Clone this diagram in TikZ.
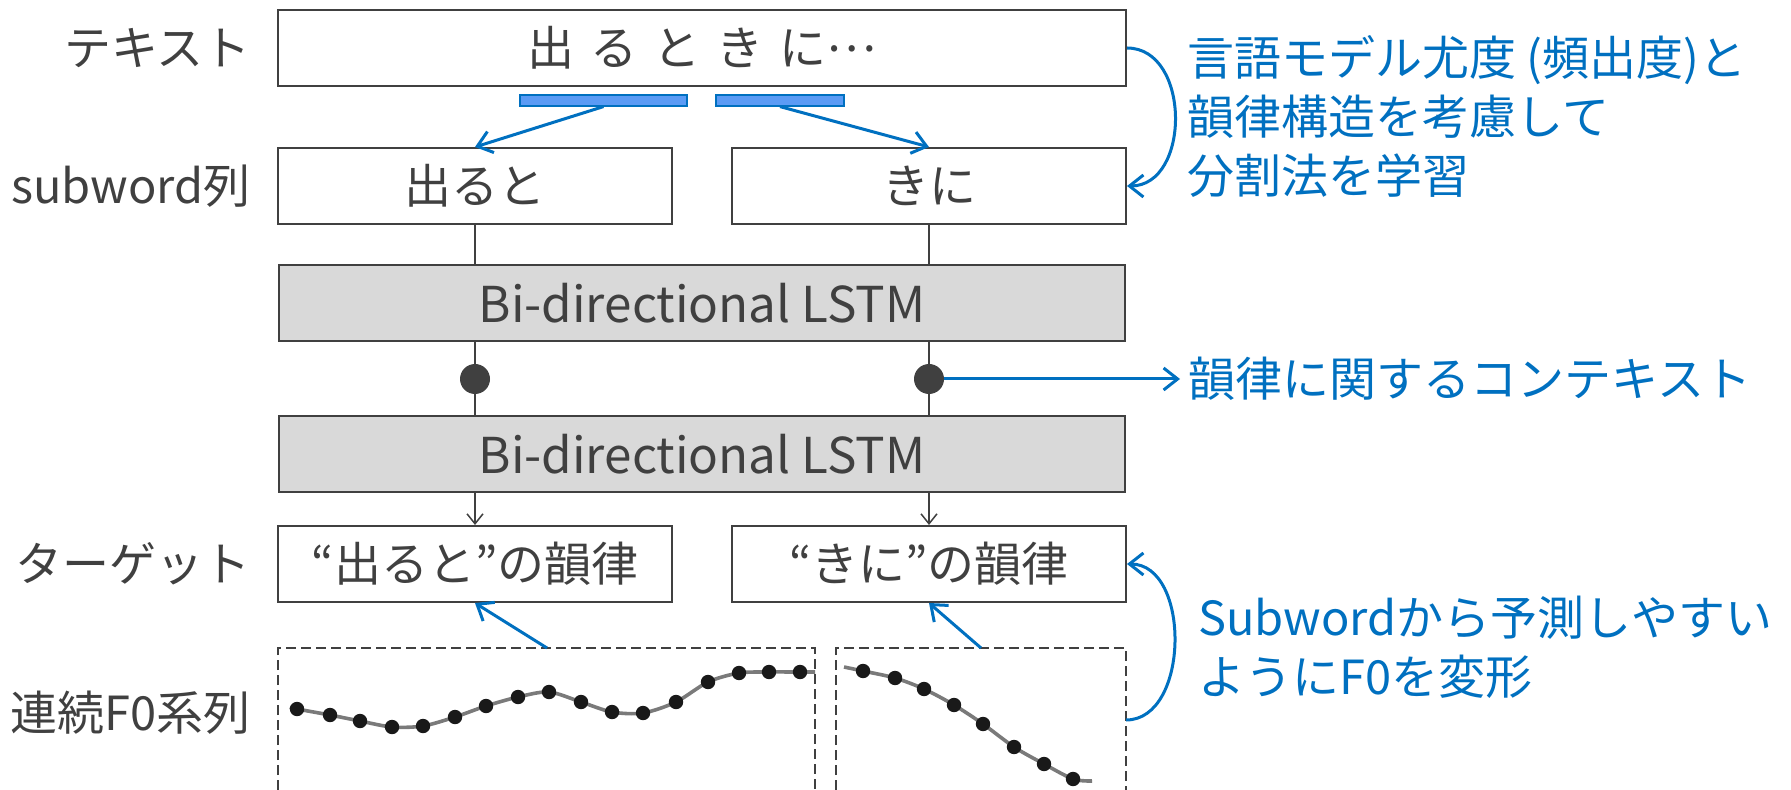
\documentclass[tikz,border=0pt]{standalone}
\usepackage{fontspec}
\setmainfont{Noto Sans CJK JP}
\usetikzlibrary{arrows.meta, calc, shapes.geometric}

\definecolor{ink}{HTML}{404040}
\definecolor{lstmgray}{HTML}{D9D9D9}
\definecolor{noteblue}{HTML}{0070C0}
\definecolor{barblue}{HTML}{5B9BF5}
\definecolor{f0gray}{HTML}{7A7A7A}

\tikzset{
  lbl/.style={anchor=east, inner sep=0pt, text=ink, font=\fontsize{23.5}{28}\selectfont},
  box/.style={draw=ink, line width=1pt, text=ink, minimum height=38pt, inner sep=0pt, font=\fontsize{23.5}{28}\selectfont},
  lstm/.style={box, fill=lstmgray, minimum width=423pt, font=\fontsize{24.7}{30}\selectfont},
  bar/.style={draw=noteblue, fill=barblue, line width=0.6pt, minimum height=5.5pt, inner sep=0pt},
  dot/.style={circle, fill=ink, minimum size=15pt, inner sep=0pt},
  conn/.style={ink, line width=0.75pt},
  bluearrow/.style={noteblue, line width=1.5pt, -{Straight Barb[length=7pt, width=11pt]}},
  bluetext/.style={anchor=west, align=left, inner sep=4pt, text=noteblue, font=\fontsize{23.5}{29.5}\selectfont},
  f0box/.style={ink, line width=0.8pt, dash pattern=on 5pt off 2.5pt},
}

\begin{document}
\begin{tikzpicture}[x=0.5pt, y=-0.5pt]
  \useasboundingbox (0,0) rectangle (1791,790);
  % row labels
  \node[lbl] (lbltext) at (251,48) {テキスト};
  \node[lbl] (lblsub) at (251,186) {subword列};
  \node[lbl] (lbltgt) at (251,564) {ターゲット};
  \node[lbl] (lblf0) at (251,713) {連続F0系列};
  % text and subword split
  \node[box, minimum width=424pt] (txt) at (702,48) {出\hspace{8pt}る\hspace{8pt}と\hspace{8pt}き\hspace{8pt}に\raisebox{0.3em}{…}};
  \node[bar, minimum width=83.5pt] (bar1) at (603.5,100.5) {};
  \node[bar, minimum width=64pt] (bar2) at (780,100.5) {};
  \node[box, minimum width=197pt] (sub1) at (475,186) {出ると};
  \node[box, minimum width=197pt] (sub2) at (929,186) {きに};
  \draw[bluearrow] (bar1.south) -- (sub1.north);
  \draw[bluearrow] (bar2.south) -- (sub2.north);
  \draw[bluearrow] (txt.east) to[out=0, in=0, distance=32pt] (sub2.east);
  \node[bluetext] (split) at (1179,116) {言語モデル尤度 (頻出度)と\\韻律構造を考慮して\\分割法を学習};
  % LSTM layers
  \node[lstm] (lstm1) at (702,303) {Bi-directional LSTM};
  \node[lstm] (lstm2) at (702,454) {Bi-directional LSTM};
  \draw[conn] (sub1.south) -- (sub1.south |- lstm1.north);
  \draw[conn] (sub2.south) -- (sub2.south |- lstm1.north);
  \node[dot] (dot1) at (475,379) {};
  \node[dot] (dot2) at (929,379) {};
  \draw[conn] (dot1 |- lstm1.south) -- (dot1) -- (dot1 |- lstm2.north);
  \draw[conn] (dot2 |- lstm1.south) -- (dot2) -- (dot2 |- lstm2.north);
  \node[bluetext] (ctx) at (1180,379) {韻律に関するコンテキスト};
  \draw[bluearrow] (dot2) -- (ctx.west);
  % targets
  \node[box, minimum width=197pt] (tgt1) at (475,564) {“出ると”の韻律};
  \node[box, minimum width=197pt] (tgt2) at (929,564) {“きに”の韻律};
  \draw[conn, -{Straight Barb[length=5pt, width=8pt]}] (tgt1 |- lstm2.south) -- (tgt1.north);
  \draw[conn, -{Straight Barb[length=5pt, width=8pt]}] (tgt2 |- lstm2.south) -- (tgt2.north);
  % continuous F0
  \draw[f0box] (278,790) |- (815,648) -- (815,790);
  \draw[f0box] (836,790) |- (1126,648) -- (1126,790);
  \draw[f0gray, line width=1.8pt] plot[smooth] coordinates {(290,707) (297,709) (330,715) (360,721) (392,727) (423,726) (455,717) (486,706) (518,697) (549,692) (581,702) (612,712) (643,713) (676,702) (708,682) (739,673) (769,672) (800,672) (815,672)};
  \foreach \x/\y in {297/709, 330/715, 360/721, 392/727, 423/726, 455/717, 486/706, 518/697, 549/692, 581/702, 612/712, 643/713, 676/702, 708/682, 739/673, 769/672, 800/672}
    \fill[black!90] (\x,\y) circle (3.6pt);
  \draw[f0gray, line width=1.8pt] plot[smooth] coordinates {(844,667) (863,671) (895,678) (924,689) (954,705) (983,724) (1014,747) (1044,764) (1073,779) (1092,781)};
  \foreach \x/\y in {863/671, 895/678, 924/689, 954/705, 983/724, 1014/747, 1044/764, 1073/779}
    \fill[black!90] (\x,\y) circle (3.6pt);
  \coordinate (f0l) at (547,648);
  \coordinate (f0r) at (981,648);
  \coordinate (f0side) at (1126,720);
  \draw[bluearrow] (f0l) -- (tgt1.south);
  \draw[bluearrow] (f0r) -- (tgt2.south);
  \draw[bluearrow] (f0side) to[out=0, in=0, distance=32pt] (tgt2.east);
  \node[bluetext] (warp) at (1190,647) {Subwordから予測しやすい\\ようにF0を変形};
\end{tikzpicture}
\end{document}
